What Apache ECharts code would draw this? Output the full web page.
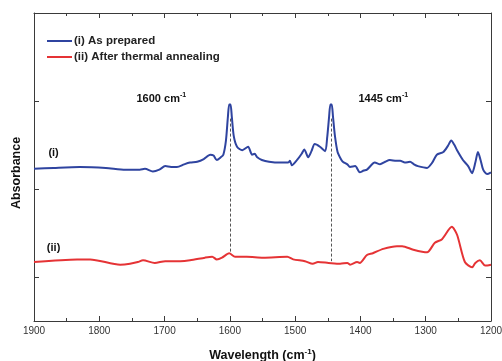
<!DOCTYPE html>
<html>
<head>
<meta charset="utf-8">
<script src="https://cdn.jsdelivr.net/npm/echarts@6/dist/echarts.min.js"></script>
<style>
html, body { margin: 0; padding: 0; background: #fff; }
#chart { width: 502px; height: 361px; }
</style>
</head>
<body>
<div id="chart"></div>
<script>
// spectrum (i) as prepared
var asPreparedWn = [1900, 1870, 1830, 1790, 1760, 1738, 1730, 1718, 1708, 1699, 1690, 1681, 1670, 1661, 1650, 1640, 1630, 1625, 1620, 1614, 1610, 1606, 1603, 1601, 1599, 1597, 1594, 1589, 1581, 1572, 1566, 1562, 1558, 1551, 1540, 1523, 1511, 1508, 1505, 1497, 1490, 1486, 1480, 1475, 1470, 1462, 1454, 1451, 1448, 1446, 1444, 1442, 1439, 1435, 1430, 1427, 1420, 1416, 1408, 1401, 1395, 1390, 1378, 1370, 1362, 1355, 1345, 1339, 1332, 1324, 1318, 1312, 1298, 1290, 1283, 1273, 1266, 1261, 1256, 1252, 1243, 1235, 1229, 1224, 1220, 1216, 1212, 1206, 1200];
var asPreparedAbs = [1.73, 1.74, 1.75, 1.74, 1.72, 1.72, 1.73, 1.70, 1.72, 1.76, 1.75, 1.75, 1.78, 1.80, 1.81, 1.84, 1.89, 1.88, 1.83, 1.86, 1.89, 2.05, 2.32, 2.46, 2.46, 2.32, 2.10, 1.98, 1.94, 1.98, 1.89, 1.90, 1.86, 1.83, 1.81, 1.80, 1.80, 1.82, 1.77, 1.83, 1.90, 1.95, 1.86, 1.93, 2.01, 1.98, 1.93, 2.08, 2.32, 2.46, 2.46, 2.32, 2.10, 1.92, 1.84, 1.81, 1.78, 1.75, 1.76, 1.69, 1.71, 1.72, 1.80, 1.78, 1.81, 1.83, 1.82, 1.82, 1.80, 1.81, 1.78, 1.76, 1.74, 1.80, 1.89, 1.92, 1.99, 2.05, 2.00, 1.94, 1.83, 1.76, 1.68, 1.80, 1.92, 1.83, 1.72, 1.67, 1.69];

// spectrum (ii) after thermal annealing
var annealedWn = [1900, 1834, 1814, 1768, 1753, 1741, 1733, 1715, 1699, 1676, 1661, 1638, 1627, 1620, 1612, 1601, 1592, 1574, 1549, 1512, 1503, 1485, 1473, 1465, 1449, 1431, 1420, 1416, 1405, 1401, 1390, 1381, 1365, 1344, 1336, 1319, 1298, 1286, 1275, 1260, 1252, 1240, 1229, 1224, 1217, 1209, 1200];
var annealedAbs = [0.67, 0.70, 0.70, 0.64, 0.65, 0.67, 0.69, 0.66, 0.68, 0.68, 0.69, 0.72, 0.73, 0.70, 0.72, 0.77, 0.73, 0.73, 0.72, 0.73, 0.70, 0.68, 0.65, 0.67, 0.66, 0.65, 0.66, 0.64, 0.67, 0.66, 0.75, 0.77, 0.82, 0.85, 0.85, 0.81, 0.78, 0.89, 0.93, 1.07, 0.98, 0.67, 0.61, 0.66, 0.69, 0.63, 0.64];

// dashed guides: [wavenumber, top, bottom]
var peakLines = [[1600, 2.3, 0.77], [1445, 2.3, 0.68]];
var peakLabels = ['1600', '1445'];
var peakLabelWn = [1705, 1365];
var yTicks = [0.5, 1.5, 2.5];

var FONT = 'Liberation Sans, Arial, sans-serif';
var AXIS_COLOR = '#3a3a3a';

function pairs(xs, ys) {
	var out = [];
	for (var i = 0; i < xs.length; i++) {
		out.push([xs[i], ys[i]]);
	}
	return out;
}

function xAxisDef(pos, showLabels) {
	return {
		type : 'value',
		position : pos,
		min : 1200,
		max : 1900,
		interval : 100,
		inverse : true,
		name : showLabels ? '{a|Wavelength (cm}{s|-1}{a|)}' : '',
		nameLocation : 'middle',
		nameGap : 27,
		nameTextStyle : {
			rich : {
				a : { fontFamily : FONT, fontSize : 12.5, fontWeight : 'bold', color : '#111' },
				s : { fontFamily : FONT, fontSize : 8, fontWeight : 'bold', color : '#111', padding : [0, 0, 8, 0] }
			}
		},
		axisLine : { show : true, onZero : false, lineStyle : { color : AXIS_COLOR, width : 1 } },
		axisTick : { show : true, inside : true, length : 5, lineStyle : { color : AXIS_COLOR } },
		minorTick : { show : true, splitNumber : 2, length : 3, lineStyle : { color : AXIS_COLOR } },
		axisLabel : {
			show : showLabels,
			fontFamily : FONT,
			fontSize : 10,
			color : '#333',
			margin : 5,
			formatter : function (v) { return String(v); }
		},
		splitLine : { show : false }
	};
}

function yAxisDef(pos, showName) {
	return {
		type : 'value',
		position : pos,
		min : 0,
		max : 3.5,
		name : showName ? 'Absorbance' : '',
		nameLocation : 'middle',
		nameGap : 11,
		nameTextStyle : { fontFamily : FONT, fontSize : 12.5, fontWeight : 'bold', color : '#111', padding : [0, 12, 0, 0] },
		axisLine : { show : true, onZero : false, lineStyle : { color : AXIS_COLOR, width : 1 } },
		axisTick : { show : true, inside : true, length : 5, customValues : yTicks, lineStyle : { color : AXIS_COLOR } },
		axisLabel : { show : false },
		splitLine : { show : false }
	};
}

var guideData = [];
for (var i = 0; i < peakLines.length; i++) {
	guideData.push([
		{ coord : [peakLines[i][0], peakLines[i][1]] },
		{ coord : [peakLines[i][0], peakLines[i][2]] }
	]);
}

var chart = echarts.init(document.getElementById('chart'), null, { renderer : 'canvas' });

var option = {
	animation : false,
	backgroundColor : '#fff',
	grid : { left : 34, right : 11, top : 13, bottom : 40, outerBoundsMode : 'none' },
	xAxis : [ xAxisDef('bottom', true), xAxisDef('top', false) ],
	yAxis : [ yAxisDef('left', true), yAxisDef('right', false) ],
	legend : {
		left : 42,
		top : 30,
		orient : 'vertical',
		icon : 'rect',
		itemWidth : 25,
		itemHeight : 2,
		itemGap : 4,
		textStyle : { fontFamily : FONT, fontSize : 11.5, fontWeight : 'bold', color : '#222', padding : [0, 0, 0, -3] },
		data : [ '(i) As prepared', '(ii) After thermal annealing' ]
	},
	series : [ {
		name : 'guides',
		type : 'line',
		data : [],
		z : 1,
		markLine : {
			silent : true,
			symbol : 'none',
			label : { show : false },
			lineStyle : { type : [3, 2], color : '#555', width : 1 },
			data : guideData
		}
	}, {
		name : '(i) As prepared',
		type : 'line',
		z : 3,
		showSymbol : false,
		smooth : 0.25,
		color : '#2f44a0',
		lineStyle : { width : 2 },
		data : pairs(asPreparedWn, asPreparedAbs)
	}, {
		name : '(ii) After thermal annealing',
		type : 'line',
		z : 3,
		showSymbol : false,
		smooth : 0.25,
		color : '#e53335',
		lineStyle : { width : 2 },
		data : pairs(annealedWn, annealedAbs)
	} ]
};
chart.setOption(option);

// peak labels and spectrum tags, placed from data coordinates
var labelStyle = {
	a : { fontFamily : FONT, fontSize : 11, fontWeight : 'bold', fill : '#111' },
	s : { fontFamily : FONT, fontSize : 7, fontWeight : 'bold', fill : '#111', padding : [0, 0, 8, 0] }
};
var graphics = [];
for (var j = 0; j < peakLabels.length; j++) {
	var p = chart.convertToPixel({ gridIndex : 0 }, [peakLabelWn[j], 2.52]);
	graphics.push({
		type : 'text',
		x : p[0],
		y : p[1],
		style : {
			text : '{a|' + peakLabels[j] + ' cm}{s|-1}',
			rich : labelStyle,
			align : 'center',
			verticalAlign : 'middle'
		}
	});
}
var tags = [ ['(i)', 1870, 1.91], ['(ii)', 1870, 0.83] ];
for (var k = 0; k < tags.length; k++) {
	var q = chart.convertToPixel({ gridIndex : 0 }, [tags[k][1], tags[k][2]]);
	graphics.push({
		type : 'text',
		x : q[0],
		y : q[1],
		style : {
			text : tags[k][0],
			fontFamily : FONT,
			fontSize : 11,
			fontWeight : 'bold',
			fill : '#111',
			align : 'center',
			verticalAlign : 'middle'
		}
	});
}
chart.setOption({ graphic : graphics });
</script>
</body>
</html>
